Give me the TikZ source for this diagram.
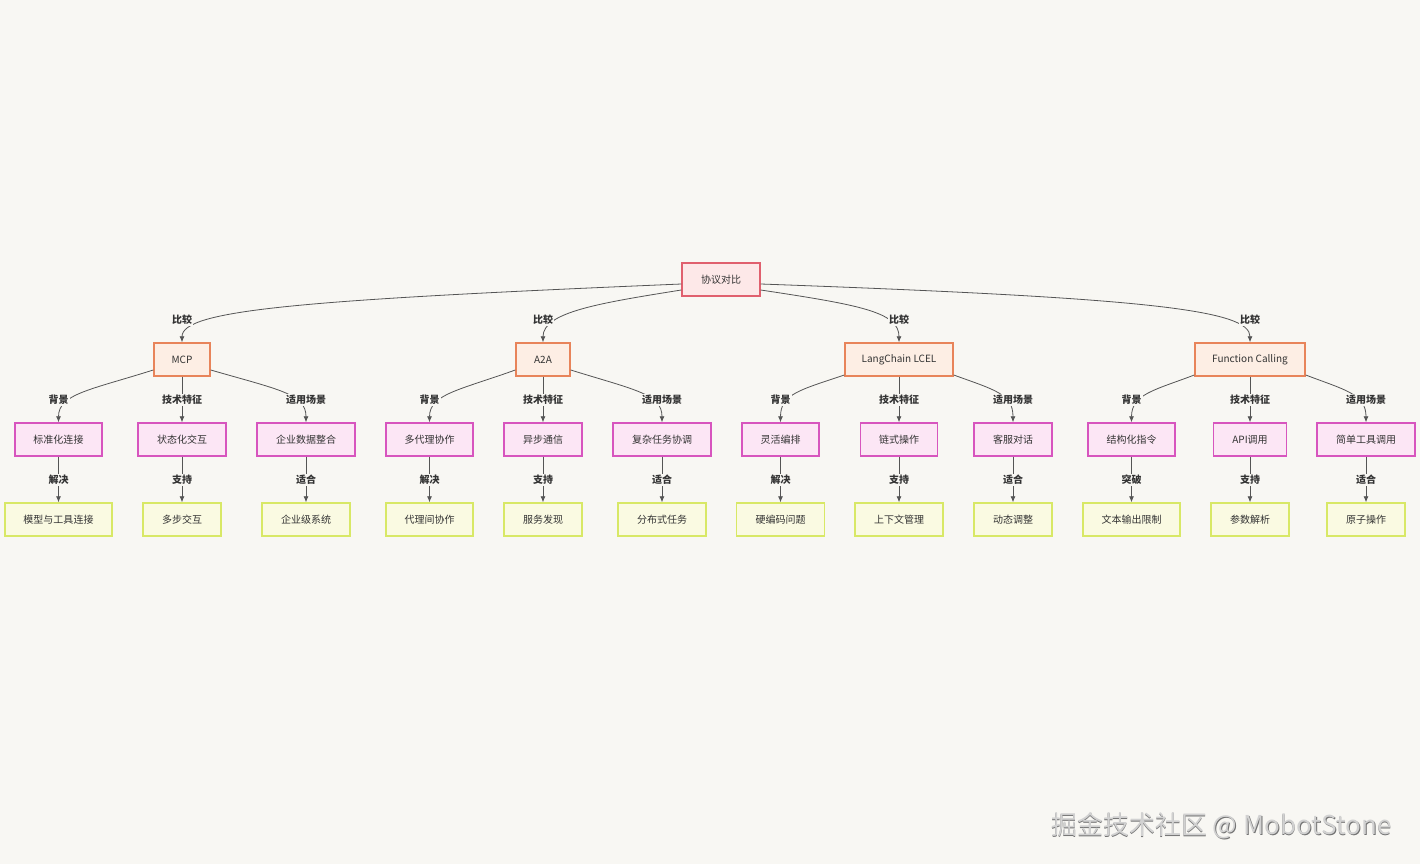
\documentclass[tikz,border=0pt]{standalone}
\usepackage{fontspec}
\setmainfont{Noto Sans CJK SC}
\usetikzlibrary{arrows.meta}
\definecolor{bg}{HTML}{F8F7F3}
\definecolor{rootfill}{HTML}{FDE8E8}
\definecolor{rootdraw}{HTML}{E0606E}
\definecolor{l1fill}{HTML}{FDEEE4}
\definecolor{l1draw}{HTML}{E8845A}
\definecolor{l2fill}{HTML}{FCE6F5}
\definecolor{l2draw}{HTML}{D755BE}
\definecolor{l3fill}{HTML}{FAFAE2}
\definecolor{l3draw}{HTML}{D8E866}
\definecolor{edgec}{HTML}{555555}
\definecolor{txt}{HTML}{333333}
\tikzset{
  box/.style={draw, line width=1.1pt, minimum height=33*0.75pt, minimum width=#1*0.75pt, inner sep=0pt, font=\fontsize{7.5}{9}\selectfont, text=txt},
  rootbox/.style={box=#1, fill=rootfill, draw=rootdraw},
  lone/.style={box=#1, fill=l1fill, draw=l1draw},
  ltwo/.style={box=#1, fill=l2fill, draw=l2draw},
  lthree/.style={box=#1, fill=l3fill, draw=l3draw},
  conn/.style={draw=edgec, line width=0.6pt, -{Latex[length=4.5pt,width=3.8pt]}},
  lbl/.style={fill=bg, inner sep=1pt, font=\fontsize{7.5}{9}\selectfont\bfseries, text=txt}
}
\begin{document}
\begin{tikzpicture}[x=0.75pt,y=-0.75pt]
\fill[bg] (0,0) rectangle (1420,864);
\useasboundingbox (0,0) rectangle (1420,864);

% root
\node[rootbox=78] (r) at (721,279.5) {协议对比};
% level 1
\node[lone=56] (m1) at (182,359.5) {MCP};
\node[lone=54] (m2) at (543,359.5) {A2A};
\node[lone=108] (m3) at (899,359.5) {LangChain LCEL};
\node[lone=110] (m4) at (1250,359.5) {Function Calling};
% level 2
\node[ltwo=87] (a1) at (58.5,439.5) {标准化连接};
\node[ltwo=88] (a2) at (182,439.5) {状态化交互};
\node[ltwo=98] (a3) at (306,439.5) {企业数据整合};
\node[ltwo=87] (a4) at (429.5,439.5) {多代理协作};
\node[ltwo=78] (a5) at (543,439.5) {异步通信};
\node[ltwo=98] (a6) at (662,439.5) {复杂任务协调};
\node[ltwo=77] (a7) at (780.5,439.5) {灵活编排};
\node[ltwo=77] (a8) at (899,439.5) {链式操作};
\node[ltwo=78] (a9) at (1013,439.5) {客服对话};
\node[ltwo=87] (a10) at (1131.5,439.5) {结构化指令};
\node[ltwo=73] (a11) at (1250,439.5) {API调用};
\node[ltwo=98] (a12) at (1366,439.5) {简单工具调用};
% level 3
\node[lthree=107] (b1) at (58.5,519.5) {模型与工具连接};
\node[lthree=78] (b2) at (182,519.5) {多步交互};
\node[lthree=88] (b3) at (306,519.5) {企业级系统};
\node[lthree=87] (b4) at (429.5,519.5) {代理间协作};
\node[lthree=78] (b5) at (543,519.5) {服务发现};
\node[lthree=88] (b6) at (662,519.5) {分布式任务};
\node[lthree=88] (b7) at (780.5,519.5) {硬编码问题};
\node[lthree=88] (b8) at (899,519.5) {上下文管理};
\node[lthree=78] (b9) at (1013,519.5) {动态调整};
\node[lthree=97] (b10) at (1131.5,519.5) {文本输出限制};
\node[lthree=78] (b11) at (1250,519.5) {参数解析};
\node[lthree=78] (b12) at (1366,519.5) {原子操作};

% root edges
\draw[conn] (r.west|-0,284) .. controls (300,300) and (182,310) .. (m1.north);
\draw[conn] (r.west|-0,290) .. controls (600,303) and (543,312) .. (m2.north);
\draw[conn] (r.east|-0,290) .. controls (860,305) and (899,312) .. (m3.north);
\draw[conn] (r.east|-0,284) .. controls (1150,298) and (1250,310) .. (m4.north);
\node[lbl] (l1) at (182,320) {比较};
\node[lbl] (l2) at (543,320) {比较};
\node[lbl] (l3) at (899,320) {比较};
\node[lbl] (l4) at (1250,320) {比较};

% level1 -> level2
\draw[conn] (m1.west|-0,370) .. controls (90,390) and (58.5,394) .. (a1.north);
\draw[conn] (m1.south) -- (a2.north);
\draw[conn] (m1.east|-0,370) .. controls (280,390) and (306,394) .. (a3.north);
\draw[conn] (m2.west|-0,370) .. controls (460,390) and (429.5,394) .. (a4.north);
\draw[conn] (m2.south) -- (a5.north);
\draw[conn] (m2.east|-0,370) .. controls (635,390) and (662,394) .. (a6.north);
\draw[conn] (m3.west|-0,375) .. controls (800,390) and (780.5,394) .. (a7.north);
\draw[conn] (m3.south) -- (a8.north);
\draw[conn] (m3.east|-0,375) .. controls (995,390) and (1013,394) .. (a9.north);
\draw[conn] (m4.west|-0,375) .. controls (1155,390) and (1131.5,394) .. (a10.north);
\draw[conn] (m4.south) -- (a11.north);
\draw[conn] (m4.east|-0,375) .. controls (1345,390) and (1366,394) .. (a12.north);
\foreach \x/\n in {58.5/p1,429.5/p4,780.5/p7,1131.5/p10}{\node[lbl] (\n) at (\x,400) {背景};}
\foreach \x/\n in {182/p2,543/p5,899/p8,1250/p11}{\node[lbl] (\n) at (\x,400) {技术特征};}
\foreach \x/\n in {306/p3,662/p6,1013/p9,1366/p12}{\node[lbl] (\n) at (\x,400) {适用场景};}

% level2 -> level3
\foreach \i in {1,...,12}{\draw[conn] (a\i.south) -- (a\i.south|-b\i.north);}
\foreach \x/\n in {58.5/q1,429.5/q4,780.5/q7}{\node[lbl] (\n) at (\x,480) {解决};}
\node[lbl] (q10) at (1131.5,480) {突破};
\foreach \x/\n in {182/q2,543/q5,899/q8,1250/q11}{\node[lbl] (\n) at (\x,480) {支持};}
\foreach \x/\n in {306/q3,662/q6,1013/q9,1366/q12}{\node[lbl] (\n) at (\x,480) {适合};}

% watermark
\node[anchor=east, text=black!55, font=\fontsize{19.5}{22}\selectfont] (wms) at (1397,826.5) {掘金技术社区 @ MobotStone};
\node[anchor=east, text=black!18, font=\fontsize{19.5}{22}\selectfont] (wm) at (1396.3,825.8) {掘金技术社区 @ MobotStone};
\end{tikzpicture}
\end{document}
